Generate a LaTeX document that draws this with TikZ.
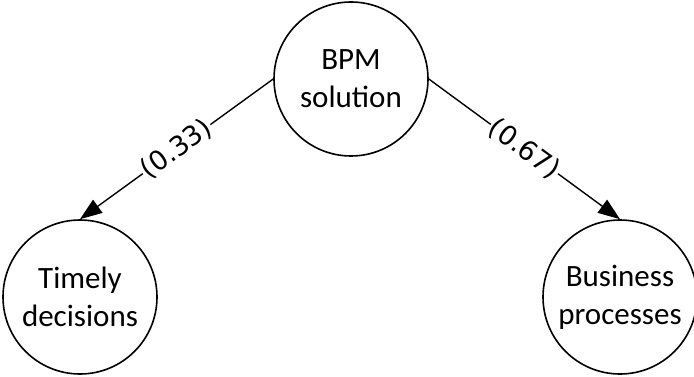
\documentclass[tikz,border=0pt]{standalone}
\usepackage{fontspec}
\setmainfont{Carlito}
\newfontfamily\weightfont{DejaVu Sans}
\usetikzlibrary{arrows.meta, positioning}

\begin{document}
\begin{tikzpicture}[x=1pt, y=-1pt,
    goal/.style={draw, circle, line width=1.6pt, minimum size=154pt, inner sep=0pt,
                 align=center, font=\fontsize{31}{38}\selectfont},
    link/.style={-{Triangle[length=22pt, width=16pt]}, line width=1.4pt},
    weight/.style={midway, sloped, fill=white, inner sep=1pt,
                   font=\weightfont\fontsize{27}{30}\selectfont}]
    \useasboundingbox (0,0) rectangle (694,377);

    % Root goal
    \node[goal] (bpm) at (351, 79) {BPM\\solution};

    % Sub goals
    \node[goal] (timely) at (80, 297) {Timely\\decisions};
    \node[goal] (business) at (620, 297) {Business\\processes};

    % Weighted links
    \draw[link] (bpm.west) -- node[weight] {(0.33)} (timely.north);
    \draw[link] (bpm.east) -- node[weight] {(0.67)} (business.north);
\end{tikzpicture}
\end{document}
